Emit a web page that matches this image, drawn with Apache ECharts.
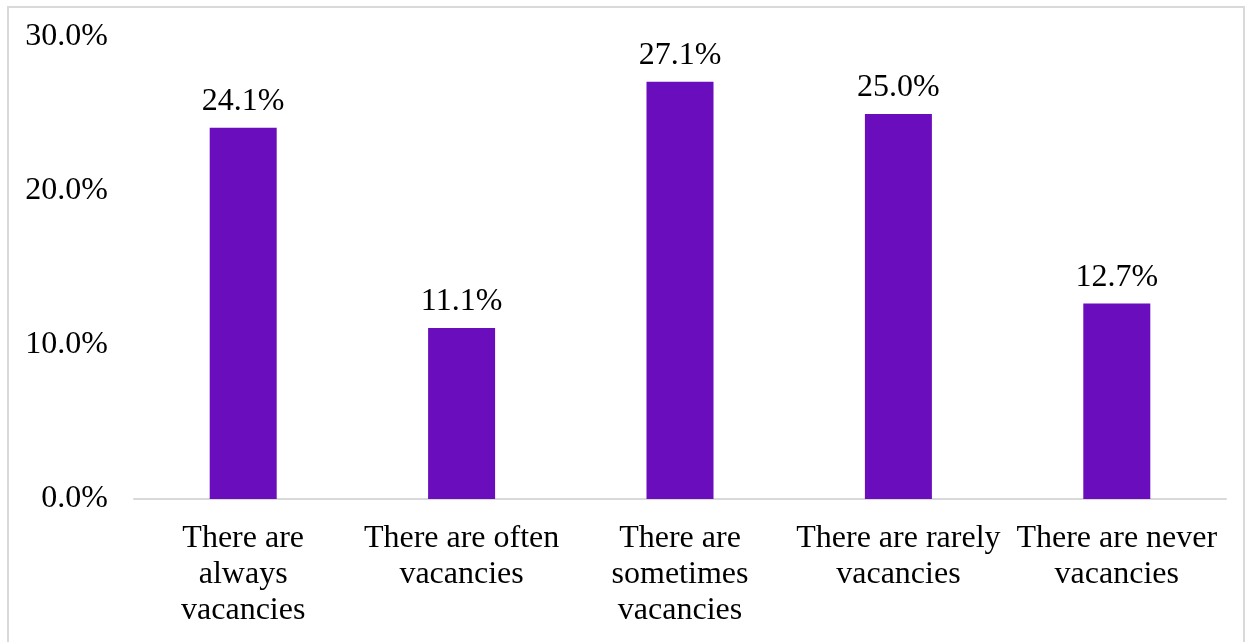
<!DOCTYPE html>
<html>
<head>
<meta charset="utf-8">
<script src="https://cdn.jsdelivr.net/npm/echarts@6/dist/echarts.min.js"></script>
<style>
  html, body { margin: 0; padding: 0; background: #fff; }
  #frame { position: absolute; left: 7px; top: 6px; width: 1238px; height: 640px; box-sizing: border-box; border: 2px solid #d9d9d9; border-bottom: none; }
  #chart { position: absolute; left: 0; top: 0; width: 1252px; height: 642px; }
</style>
</head>
<body>
<div id="frame"></div>
<div id="chart"></div>
<script>
// Survey responses about how often vacancies exist (share of respondents, %)
const categories = [
  'There are\nalways\nvacancies',
  'There are often\nvacancies',
  'There are\nsometimes\nvacancies',
  'There are rarely\nvacancies',
  'There are never\nvacancies'
];
const shares = [24.1, 11.1, 27.1, 25.0, 12.7];
const yTicks = [0, 10, 20, 30];

const font = '"Liberation Serif", "Times New Roman", serif';
const chart = echarts.init(document.getElementById('chart'));
chart.setOption({
  animation: false,
  grid: { left: 134, right: 26, top: 37, bottom: 143, containLabel: false },
  xAxis: {
    type: 'category',
    data: categories,
    axisLine: { lineStyle: { color: '#d9d9d9', width: 2 } },
    axisTick: { show: false },
    axisLabel: {
      interval: 0,
      color: '#000',
      fontFamily: font,
      fontSize: 32,
      lineHeight: 36,
      margin: 22
    }
  },
  yAxis: {
    type: 'value',
    min: yTicks[0],
    max: yTicks[yTicks.length - 1],
    interval: 10,
    splitLine: { show: false },
    axisLine: { show: false },
    axisTick: { show: false },
    axisLabel: {
      color: '#000',
      fontFamily: font,
      fontSize: 32,
      margin: 26,
      formatter: v => v.toFixed(1) + '%'
    }
  },
  series: [{
    type: 'bar',
    data: shares,
    barWidth: 67,
    itemStyle: { color: '#6a0dbd' },
    label: {
      show: true,
      position: 'top',
      distance: 10,
      color: '#000',
      fontFamily: font,
      fontSize: 32,
      formatter: p => p.value.toFixed(1) + '%'
    }
  }]
});
</script>
</body>
</html>
